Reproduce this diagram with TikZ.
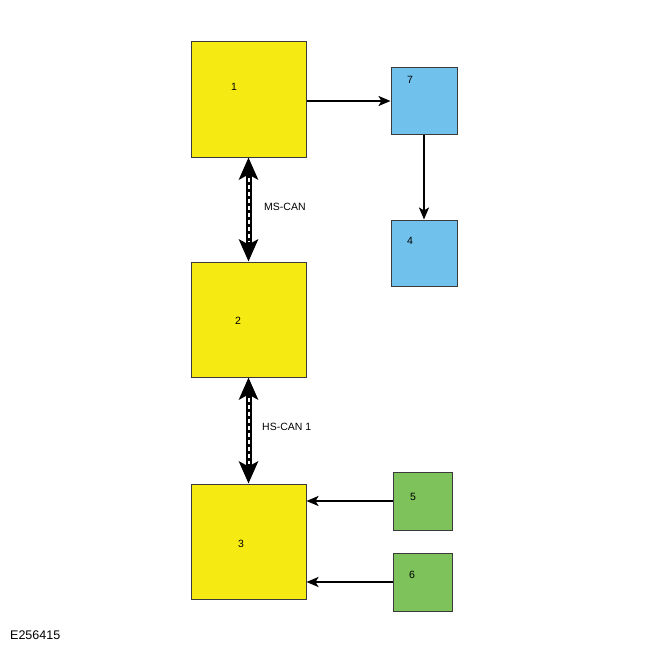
\documentclass[tikz,border=0pt]{standalone}
\usepackage{fontspec}
\setmainfont{Liberation Sans}
\usetikzlibrary{arrows.meta}
\definecolor{boxyellow}{HTML}{F5EA12}
\definecolor{boxblue}{HTML}{70C2EC}
\definecolor{boxgreen}{HTML}{7DC25A}
\definecolor{edgegray}{HTML}{3A3A3A}
\tikzset{
  bigbox/.style={draw=edgegray, line width=1pt, fill=boxyellow, minimum width=115pt, minimum height=115pt, inner sep=0pt},
  bluebox/.style={draw=edgegray, line width=1pt, fill=boxblue, minimum width=66pt, minimum height=66pt, inner sep=0pt},
  greenbox/.style={draw=edgegray, line width=1pt, fill=boxgreen, minimum width=59pt, minimum height=58pt, inner sep=0pt},
  lbl/.style={font=\fontsize{10.5}{12}\selectfont, inner sep=0pt},
  arr/.style={line width=2.2pt, -{Stealth[length=12pt,width=10pt,inset=3pt]}},
  busblack/.style={line width=6pt, {Stealth[length=22pt,width=19pt,inset=5pt]}-{Stealth[length=22pt,width=19pt,inset=5pt]}},
  buswhite/.style={line width=2pt, white, dash pattern=on 4pt off 3pt}
}
\begin{document}
\begin{tikzpicture}[x=1pt,y=-1pt]
\useasboundingbox (0,0) rectangle (650,650);
\fill[white] (0,0) rectangle (650,650);
\node[bigbox] (b1) at (248.5,99.5) {};
\node[bigbox] (b2) at (248.5,319.5) {};
\node[bigbox] (b3) at (248.5,541.5) {};
\node[bluebox] (b7) at (424,101) {};
\node[bluebox] (b4) at (424,253) {};
\node[greenbox] (b5) at (422.5,501) {};
\node[greenbox] (b6) at (422.5,582) {};
\node[lbl] (t1) at (234,87) {1};
\node[lbl] (t2) at (238,321) {2};
\node[lbl] (t3) at (241,544) {3};
\node[lbl] (t7) at (410,80) {7};
\node[lbl] (t4) at (410,241) {4};
\node[lbl] (t5) at (413,497) {5};
\node[lbl] (t6) at (412,575) {6};
\node[lbl, anchor=west] (ms) at (264,207) {MS-CAN};
\node[lbl, anchor=west] (hs) at (262,427) {HS-CAN 1};
\node[font=\fontsize{12.5}{14}\selectfont, inner sep=0pt, anchor=west] (code) at (10,635) {E256415};
\draw[arr] (b1.east |- b7.west) -- (b7.west);
\draw[arr] (b7.south) -- (b4.north);
\draw[arr] (b5.west) -- (b5.west -| b3.east);
\draw[arr] (b6.west) -- (b6.west -| b3.east);
\draw[busblack] (b1.south) -- (b2.north);
\draw[buswhite] ([yshift=-20pt]b1.south) -- ([yshift=20pt]b2.north);
\draw[busblack] (b2.south) -- (b3.north);
\draw[buswhite] ([yshift=-20pt]b2.south) -- ([yshift=20pt]b3.north);
\end{tikzpicture}
\end{document}
